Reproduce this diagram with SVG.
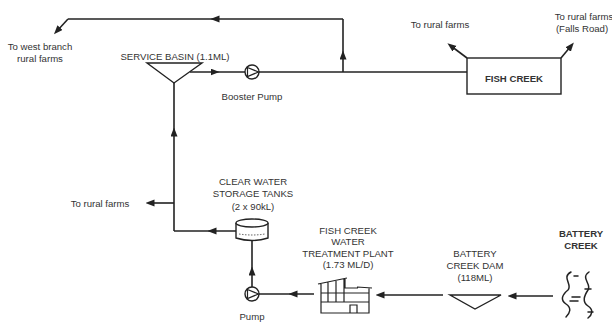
<svg xmlns="http://www.w3.org/2000/svg" width="612" height="324" viewBox="0 0 612 324">
<style>
text{font-family:"Liberation Sans",Arial,sans-serif;font-size:9.6px;fill:#333;text-anchor:middle}
.b{font-weight:bold}
.ln{fill:none;stroke:#222;stroke-width:1.6}
.sh{fill:#fff;stroke:#222;stroke-width:1.4}
.th{fill:none;stroke:#222;stroke-width:1.2}
.wv{fill:none;stroke:#222;stroke-width:1.5;stroke-linecap:round}
.am{marker-mid:url(#ah)}
.ae{marker-end:url(#ah)}
</style>
<defs>
<marker id="ah" markerUnits="userSpaceOnUse" markerWidth="9" markerHeight="8" refX="4.5" refY="3.5" orient="auto"><path d="M0,0 L9,3.5 L0,7 z" fill="#222"/></marker>
</defs>
<rect width="612" height="324" fill="#fff"/>
<g id="connectors">
<path class="ln am" d="M190,72 L215,72 L245,72"/>
<path class="ln" d="M259,72 L467,72"/>
<path class="ln am" d="M343,72 L343,55 L343,19"/>
<path class="ln am" d="M343,19 L215,19 L68,19"/>
<path class="ln ae" d="M68,19 L57,31"/>
<path class="ln ae" d="M467,58 L451,46"/>
<path class="ln ae" d="M561,58 L571,46"/>
<path class="ln am" d="M174,231 L174,132 L174,83"/>
<path class="ln am" d="M236,231 L212,231 L174,231"/>
<path class="ln ae" d="M174,203 L150,203"/>
<path class="ln am" d="M252,287 L252,271 L252,241"/>
<path class="ln am" d="M314,294 L293,294 L259,294"/>
<path class="ln ae" d="M443,295 L380,295"/>
<path class="ln ae" d="M553,296 L512,296"/>
</g>
<g id="west-branch">
<text x="40" y="49.5">To west branch</text>
<text x="40" y="61.5">rural farms</text>
</g>
<g id="service-basin">
<path class="sh" d="M147,63 L202,63 L174,83 z"/>
<text x="175" y="59.5">SERVICE BASIN (1.1ML)</text>
</g>
<g id="booster-pump">
<circle class="sh" cx="252" cy="72" r="7"/>
<path class="th" d="M247.5,67.5 L258.5,72 L247.5,76.5 z"/>
<text x="252" y="99.5">Booster Pump</text>
</g>
<g id="fish-creek">
<rect class="sh" x="467" y="58" width="94" height="36"/>
<text class="b" x="514" y="81.5">FISH CREEK</text>
</g>
<g id="rural-farms-1">
<text x="440" y="27.5">To rural farms</text>
</g>
<g id="rural-farms-falls">
<text x="584" y="19.5">To rural farms</text>
<text x="582" y="31.5">(Falls Road)</text>
</g>
<g id="rural-farms-2">
<text x="100" y="206.5">To rural farms</text>
</g>
<g id="clear-water-tanks">
<text x="253" y="184.5">CLEAR WATER</text>
<text x="253" y="197">STORAGE TANKS</text>
<text x="253" y="209.5">(2 x 90kL)</text>
<path class="sh" d="M236,223 L236,238 Q252,243 268,238 L268,223"/>
<ellipse class="sh" cx="252" cy="223" rx="16" ry="4"/>
<path d="M239,234 Q252,236 265,234" fill="none" stroke="#444" stroke-width="0.9" stroke-dasharray="1.5,1.5"/>
</g>
<g id="pump">
<circle class="sh" cx="252" cy="294" r="7"/>
<path class="th" d="M247.5,289.5 L258.5,294 L247.5,298.5 z"/>
<text x="252" y="319.5">Pump</text>
</g>
<g id="treatment-plant">
<text x="348" y="233.5">FISH CREEK</text>
<text x="348" y="245">WATER</text>
<text x="348" y="256.5">TREATMENT PLANT</text>
<text x="348" y="268">(1.73 ML/D)</text>
<path class="th" d="M321,284 L321,313 L369,313 L369,288 M318,284 L347,278 M345,278.5 L345,288 L358,288 M357,287 L372,288 M328,282.5 L328,302 M336,281 L336,302 M344,279 L344,302 M321,293 L369,293 M321,302 L369,302 M350,313 L350,305 L357,305 L357,313"/>
</g>
<g id="battery-creek-dam">
<text x="475" y="257">BATTERY</text>
<text x="475" y="269">CREEK DAM</text>
<text x="475" y="281">(118ML)</text>
<path class="sh" d="M450,295 L501,295 L475,309 z"/>
</g>
<g id="battery-creek">
<text class="b" x="581" y="236.5">BATTERY</text>
<text class="b" x="581" y="248.5">CREEK</text>
<path class="wv" d="M571,272 C561,277 573,285 568,290 C562,295 560,300 566,304 C572,308 570,313 566,317"/>
<path class="wv" d="M589,272 C580,278 592,284 588,290 C584,296 582,302 588,306 C594,310 592,315 588,318"/>
<path class="wv" d="M574,276 L578,276 M585,289 L591,289 M572,297 L580,297 M570,301 L578,301 M588,312 L593,312"/>
</g>
</svg>
